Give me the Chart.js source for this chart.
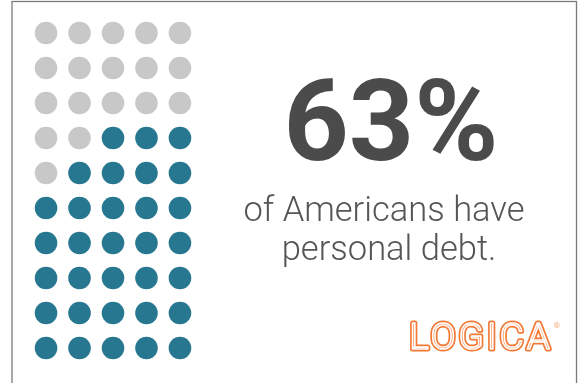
<!DOCTYPE html>
<html>
<head>
<meta charset="utf-8">
<script src="https://cdn.jsdelivr.net/npm/chart.js@4/dist/chart.umd.min.js"></script>
<style>
  html, body { margin: 0; padding: 0; background: #fff; }
  #wrap { position: relative; width: 581px; height: 383px; }
</style>
</head>
<body>
<div id="wrap"><canvas id="dotChart" width="581" height="383"></canvas></div>
<script>
/* Share of Americans with personal debt, shown as a 5 x 10 dot grid */
const percent = 63;
const columns = [1, 2, 3, 4, 5];
const rows = [1, 2, 3, 4, 5, 6, 7, 8, 9, 10];
// dark dots per column, counted up from the bottom row
const filledPerColumn = [5, 6, 7, 7, 7];
const headline = percent + "%";
const captionLines = ["of Americans have", "personal debt."];
const brand = "LOGICA";

const points = [];
const colors = [];
rows.forEach((r) => {
  columns.forEach((c, ci) => {
    points.push({ x: c, y: r });
    const fromBottom = rows.length - r + 1;
    colors.push(fromBottom <= filledPerColumn[ci] ? "#26778f" : "#c8c8c8");
  });
});

/* text, logo and frame around the grid */
const decor = {
  id: "decor",
  afterDraw(chart) {
    const ctx = chart.ctx;
    ctx.save();
    ctx.strokeStyle = "#7a7a7a";
    ctx.lineWidth = 1.3;
    ctx.strokeRect(12, 1.5, 564.5, 420);

    ctx.textAlign = "center";
    ctx.textBaseline = "alphabetic";
    ctx.fillStyle = "#4b4b4b";
    ctx.font = "bold 114px Roboto";
    ctx.fillText(headline, 391, 160);

    ctx.fillStyle = "#555555";
    ctx.font = "300 34.5px Roboto";
    ctx.fillText(captionLines[0], 384, 221);
    ctx.fillText(captionLines[1], 389, 260);

    // outlined brand lettering
    ctx.font = "300 37px Roboto";
    ctx.letterSpacing = "3px";
    ctx.lineJoin = "round";
    ctx.strokeStyle = "#f37a36";
    ctx.lineWidth = 5;
    ctx.strokeText(brand, 481, 349);
    ctx.strokeStyle = "#ffffff";
    ctx.lineWidth = 1.6;
    ctx.strokeText(brand, 481, 349);
    ctx.letterSpacing = "0px";
    ctx.fillStyle = "#f6a97e";
    ctx.font = "8px Roboto";
    ctx.fillText("®", 557, 328);
    ctx.restore();
  }
};

new Chart(document.getElementById("dotChart"), {
  type: "scatter",
  data: {
    datasets: [{
      data: points,
      pointRadius: 11.3,
      pointHoverRadius: 11.3,
      pointBorderWidth: 0,
      backgroundColor: colors,
      borderColor: colors,
      clip: false
    }]
  },
  options: {
    responsive: false,
    animation: false,
    events: [],
    layout: { padding: { left: 29.3, top: 15.5, right: 384.3, bottom: 17.5 } },
    scales: {
      x: { display: false, min: 0.5, max: 5.5 },
      y: { display: false, min: 0.5, max: 10.5, reverse: true }
    },
    plugins: {
      legend: { display: false },
      tooltip: { enabled: false }
    }
  },
  plugins: [decor]
});
</script>
</body>
</html>
